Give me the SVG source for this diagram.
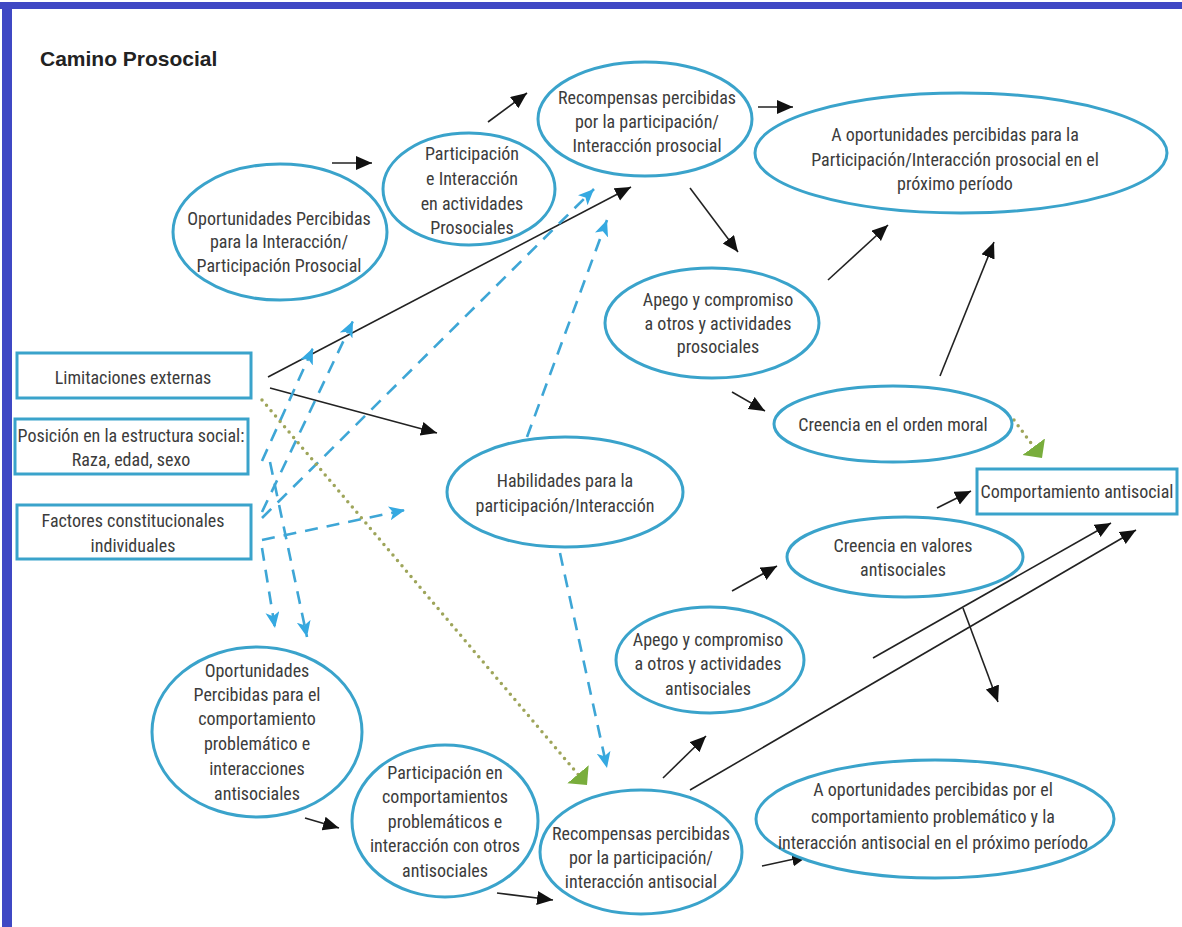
<svg xmlns="http://www.w3.org/2000/svg" width="1182" height="927" viewBox="0 0 1182 927">
<style>
.t{font-family:"Liberation Sans Narrow","Roboto Condensed","DejaVu Sans Condensed","Liberation Sans",sans-serif;font-stretch:condensed;font-size:18px;fill:#3c3c3c;text-anchor:middle}
.title{font-family:"Liberation Sans",Arial,sans-serif;font-weight:bold;font-size:21px;fill:#222}
.n{fill:#fff;stroke:#3aa3cb;stroke-width:3}
.k{fill:none;stroke:#222;stroke-width:1.6;marker-end:url(#ak)}
.b{fill:none;stroke:#3ea6d6;stroke-width:2.6;stroke-dasharray:13 9;marker-end:url(#ab)}
.g{fill:none;stroke:#9ea55a;stroke-width:3.5;stroke-linecap:round;stroke-dasharray:0 7;marker-end:url(#ag)}
</style>
<defs>
<marker id="ak" markerUnits="userSpaceOnUse" markerWidth="17" markerHeight="15" refX="16" refY="7" orient="auto"><path d="M0,0 L16,7 L0,14 z" fill="#111"/></marker>
<marker id="ab" markerUnits="userSpaceOnUse" markerWidth="17" markerHeight="15" refX="16" refY="7" orient="auto"><path d="M0,0 L16,7 L0,14 L4,7 z" fill="#35a9e1"/></marker>
<marker id="ag" markerUnits="userSpaceOnUse" markerWidth="15" markerHeight="29" refX="14" refY="14" orient="auto"><path d="M14,14 L0,0 L0,28 z" fill="#79ad3c"/></marker>
</defs>
<rect x="0" y="0" width="1182" height="927" fill="#fff"/>
<rect x="0" y="2" width="1182" height="7" fill="#3f48c4"/>
<rect x="2" y="2" width="10" height="925" fill="#3f48c4"/>
<text class="title" x="40" y="66">Camino Prosocial</text>

<g id="connectors">
<path class="k" d="M332,163 L372,163"/>
<path class="k" d="M488,122 L527,93"/>
<path class="k" d="M758,107 L793,107"/>
<path class="k" d="M690,188 L738,252"/>
<path class="k" d="M268,377 L631,187"/>
<path class="k" d="M270,388 L437,433"/>
<path class="k" d="M828,280 L888,225"/>
<path class="k" d="M940,376 L994,242"/>
<path class="k" d="M732,392 L765,411"/>
<path class="k" d="M937,508 L971,491"/>
<path class="k" d="M732,591 L777,566"/>
<path class="k" d="M873,658 L1111,523"/>
<path class="k" d="M690,790 L1136,530"/>
<path class="k" d="M963,608 L998,702"/>
<path class="k" d="M663,778 L706,736"/>
<path class="k" d="M762,866 L808,856"/>
<path class="k" d="M305,818 L339,828"/>
<path class="k" d="M497,893 L553,900"/>
<path class="b" d="M262,461 L313,348"/>
<path class="b" d="M262,512 L353,321"/>
<path class="b" d="M262,518 L594,189"/>
<path class="b" d="M527,437 L607,220"/>
<path class="b" d="M560,553 L607,768"/>
<path class="b" d="M262,540 L405,510"/>
<path class="b" d="M262,548 L275,628"/>
<path class="b" d="M270,462 L307,637"/>
<path class="g" d="M262,400 L587,785"/>
<path class="g" d="M1014,420 L1042,458"/>
</g>

<g id="n-oport-pro"><ellipse class="n" cx="280" cy="232" rx="107" ry="68"/>
<text class="t" x="279" y="225">Oportunidades Percibidas</text><text class="t" x="279" y="248">para la Interacción/</text><text class="t" x="279" y="272">Participación Prosocial</text></g>
<g id="n-part-pro"><ellipse class="n" cx="469" cy="189" rx="86" ry="56"/>
<text class="t" x="472" y="160">Participación</text><text class="t" x="472" y="185">e Interacción</text><text class="t" x="472" y="210">en actividades</text><text class="t" x="472" y="234">Prosociales</text></g>
<g id="n-recomp-pro"><ellipse class="n" cx="645" cy="119" rx="107" ry="57"/>
<text class="t" x="647" y="104">Recompensas percibidas</text><text class="t" x="647" y="128">por la participación/</text><text class="t" x="647" y="152">Interacción prosocial</text></g>
<g id="n-next-pro"><ellipse class="n" cx="961" cy="153" rx="206" ry="60"/>
<text class="t" x="955" y="141">A oportunidades percibidas para la</text><text class="t" x="955" y="166">Participación/Interacción prosocial en el</text><text class="t" x="955" y="190">próximo período</text></g>
<g id="n-apego-pro"><ellipse class="n" cx="712" cy="323" rx="107" ry="55"/>
<text class="t" x="718" y="306">Apego y compromiso</text><text class="t" x="718" y="330">a otros y actividades</text><text class="t" x="718" y="353">prosociales</text></g>
<g id="n-moral"><ellipse class="n" cx="893" cy="424" rx="119" ry="38"/>
<text class="t" x="893" y="431">Creencia en el orden moral</text></g>
<g id="n-comport"><rect class="n" x="977" y="469" width="200" height="45"/>
<text class="t" x="1077" y="498">Comportamiento antisocial</text></g>
<g id="n-valores"><ellipse class="n" cx="905" cy="557" rx="118" ry="40"/>
<text class="t" x="903" y="552">Creencia en valores</text><text class="t" x="903" y="576">antisociales</text></g>
<g id="n-habil"><ellipse class="n" cx="565" cy="492" rx="118" ry="55"/>
<text class="t" x="565" y="487">Habilidades para la</text><text class="t" x="565" y="512">participación/Interacción</text></g>
<g id="n-apego-anti"><ellipse class="n" cx="710" cy="660" rx="94" ry="53"/>
<text class="t" x="708" y="646">Apego y compromiso</text><text class="t" x="708" y="670">a otros y actividades</text><text class="t" x="708" y="695">antisociales</text></g>
<g id="n-next-anti"><ellipse class="n" cx="935" cy="819" rx="179" ry="59"/>
<text class="t" x="933" y="796">A oportunidades percibidas por el</text><text class="t" x="933" y="823">comportamiento problemático y la</text><text class="t" x="933" y="849">interacción antisocial en el próximo período</text></g>
<g id="n-recomp-anti"><ellipse class="n" cx="641" cy="852" rx="101" ry="62"/>
<text class="t" x="641" y="840">Recompensas percibidas</text><text class="t" x="641" y="864">por la participación/</text><text class="t" x="641" y="888">interacción antisocial</text></g>
<g id="n-part-anti"><ellipse class="n" cx="445" cy="821" rx="93" ry="76"/>
<text class="t" x="445" y="779">Participación en</text><text class="t" x="445" y="803">comportamientos</text><text class="t" x="445" y="828">problemáticos e</text><text class="t" x="445" y="852">interacción con otros</text><text class="t" x="445" y="877">antisociales</text></g>
<g id="n-oport-anti"><ellipse class="n" cx="257" cy="732" rx="105" ry="85"/>
<text class="t" x="257" y="677">Oportunidades</text><text class="t" x="257" y="701">Percibidas para el</text><text class="t" x="257" y="725">comportamiento</text><text class="t" x="257" y="750">problemático e</text><text class="t" x="257" y="775">interacciones</text><text class="t" x="257" y="800">antisociales</text></g>
<g id="n-limit"><rect class="n" x="17" y="353" width="234" height="45"/>
<text class="t" x="133" y="384">Limitaciones externas</text></g>
<g id="n-posicion"><rect class="n" x="15" y="419" width="233" height="55"/>
<text class="t" x="131" y="442">Posición en la estructura social:</text><text class="t" x="131" y="466">Raza, edad, sexo</text></g>
<g id="n-factores"><rect class="n" x="17" y="505" width="234" height="54"/>
<text class="t" x="133" y="527">Factores constitucionales</text><text class="t" x="133" y="552">individuales</text></g>
</svg>
